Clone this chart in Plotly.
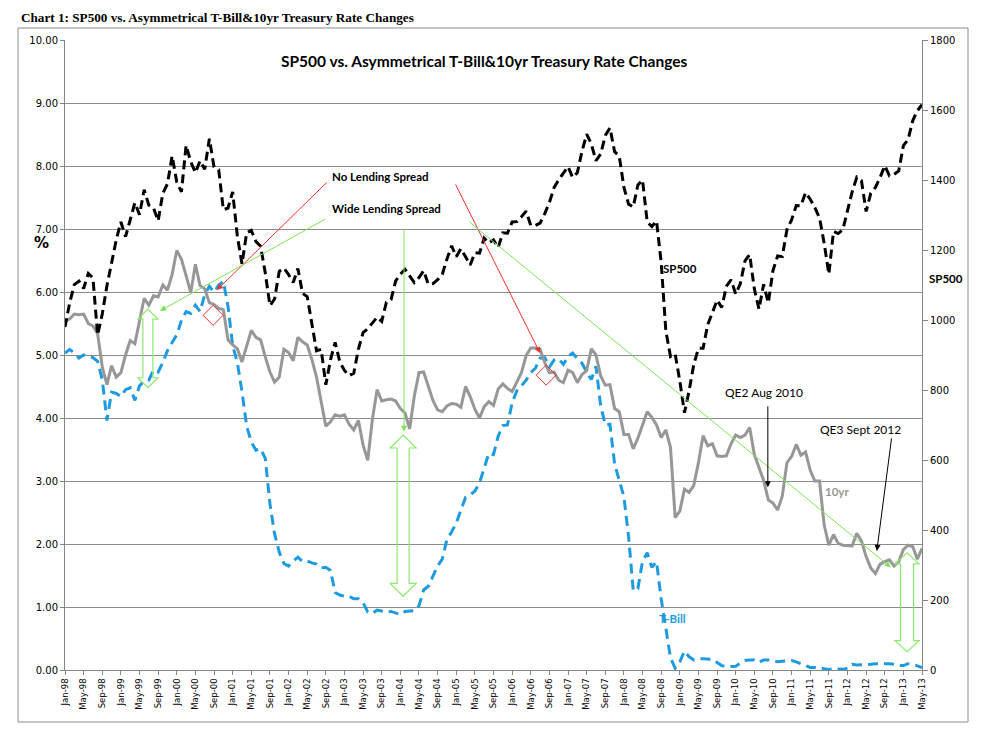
import plotly.graph_objects as go

# Monthly data Jan-98 .. May-13
sp500 = [
    980, 1049, 1101, 1111, 1090, 1133, 1120, 957, 1017, 1098, 1163, 1229,
    1280, 1238, 1286, 1335, 1301, 1372, 1328, 1320, 1283, 1362, 1389, 1469,
    1394, 1366, 1499, 1452, 1421, 1455, 1431, 1518, 1437, 1429, 1315, 1320,
    1366, 1240, 1160, 1249, 1256, 1224, 1211, 1134, 1041, 1060, 1139, 1148,
    1130, 1107, 1147, 1076, 1067, 990, 912, 916, 815, 886, 936, 880,
    856, 841, 848, 917, 964, 975, 990, 1008, 996, 1051, 1058, 1112,
    1131, 1145, 1126, 1107, 1121, 1141, 1102, 1104, 1115, 1130, 1174, 1212,
    1181, 1204, 1181, 1157, 1192, 1191, 1234, 1220, 1229, 1207, 1249, 1248,
    1280, 1281, 1295, 1311, 1270, 1270, 1277, 1304, 1336, 1378, 1401, 1418,
    1438, 1407, 1421, 1482, 1531, 1503, 1455, 1474, 1527, 1549, 1481, 1468,
    1379, 1331, 1323, 1386, 1400, 1280, 1267, 1283, 1165, 969, 896, 903,
    826, 735, 798, 873, 919, 919, 987, 1021, 1057, 1036, 1096, 1115,
    1074, 1104, 1169, 1187, 1089, 1031, 1102, 1049, 1141, 1183, 1181, 1258,
    1286, 1327, 1326, 1364, 1345, 1321, 1292, 1219, 1131, 1253, 1247, 1258,
    1312, 1366, 1408, 1398, 1310, 1362, 1379, 1407, 1441, 1412, 1416, 1426,
    1498, 1515, 1569, 1598, 1615,
]

ten_yr = [
    5.54, 5.57, 5.65, 5.64, 5.65, 5.50, 5.46, 5.34, 4.81, 4.53, 4.83, 4.65,
    4.72, 5.00, 5.23, 5.18, 5.54, 5.90, 5.79, 5.94, 5.92, 6.11, 6.03, 6.28,
    6.66, 6.52, 6.26, 5.99, 6.44, 6.10, 6.05, 5.83, 5.80, 5.74, 5.72, 5.24,
    5.16, 5.10, 4.89, 5.14, 5.39, 5.28, 5.24, 4.97, 4.73, 4.57, 4.65, 5.09,
    5.04, 4.91, 5.28, 5.21, 5.16, 4.93, 4.65, 4.26, 3.87, 3.94, 4.05, 4.03,
    4.05, 3.90, 3.81, 3.96, 3.57, 3.33, 3.98, 4.45, 4.27, 4.29, 4.30, 4.27,
    4.15, 4.08, 3.83, 4.35, 4.72, 4.73, 4.50, 4.28, 4.13, 4.10, 4.19, 4.23,
    4.22, 4.17, 4.50, 4.34, 4.14, 4.00, 4.18, 4.26, 4.20, 4.46, 4.54, 4.47,
    4.42, 4.57, 4.72, 4.99, 5.11, 5.11, 5.09, 4.88, 4.72, 4.73, 4.60, 4.56,
    4.76, 4.72, 4.56, 4.69, 4.75, 5.10, 5.00, 4.67, 4.52, 4.53, 4.15, 4.10,
    3.74, 3.74, 3.51, 3.68, 3.88, 4.10, 4.01, 3.89, 3.69, 3.81, 3.53, 2.42,
    2.52, 2.87, 2.82, 2.93, 3.29, 3.72, 3.56, 3.59, 3.40, 3.39, 3.40, 3.59,
    3.73, 3.69, 3.73, 3.85, 3.42, 3.20, 3.01, 2.70, 2.65, 2.54, 2.76, 3.29,
    3.39, 3.58, 3.41, 3.46, 3.17, 3.00, 3.00, 2.30, 1.98, 2.15, 2.01, 1.98,
    1.97, 1.97, 2.17, 2.05, 1.80, 1.62, 1.53, 1.68, 1.72, 1.75, 1.65, 1.72,
    1.91, 1.98, 1.96, 1.76, 1.93,
]

t_bill = [
    5.03, 5.09, 5.03, 4.95, 5.00, 4.98, 4.96, 4.90, 4.61, 3.96, 4.41, 4.39,
    4.34, 4.45, 4.48, 4.28, 4.51, 4.59, 4.60, 4.76, 4.73, 4.88, 5.07, 5.20,
    5.32, 5.55, 5.69, 5.66, 5.79, 5.69, 5.96, 6.09, 6.00, 6.11, 6.17, 5.77,
    5.15, 4.88, 4.42, 3.87, 3.62, 3.49, 3.51, 3.36, 2.64, 2.16, 1.87, 1.69,
    1.65, 1.73, 1.79, 1.72, 1.73, 1.70, 1.68, 1.62, 1.63, 1.58, 1.23, 1.19,
    1.17, 1.17, 1.13, 1.13, 1.07, 0.92, 0.90, 0.95, 0.94, 0.92, 0.93, 0.90,
    0.88, 0.93, 0.94, 0.94, 1.02, 1.27, 1.33, 1.48, 1.65, 1.76, 2.07, 2.19,
    2.33, 2.54, 2.74, 2.78, 2.84, 2.97, 3.22, 3.44, 3.42, 3.71, 3.88, 3.89,
    4.24, 4.43, 4.51, 4.60, 4.72, 4.79, 4.95, 4.96, 4.81, 4.92, 4.94, 4.85,
    4.98, 5.03, 4.94, 4.87, 4.73, 4.61, 4.82, 4.20, 3.89, 3.90, 3.27, 3.00,
    2.75, 2.12, 1.26, 1.29, 1.73, 1.86, 1.63, 1.72, 1.13, 0.67, 0.19, 0.03,
    0.13, 0.30, 0.21, 0.16, 0.18, 0.18, 0.18, 0.17, 0.12, 0.07, 0.05, 0.05,
    0.06, 0.11, 0.15, 0.16, 0.16, 0.12, 0.16, 0.16, 0.15, 0.13, 0.14, 0.14,
    0.15, 0.13, 0.10, 0.06, 0.04, 0.04, 0.04, 0.02, 0.01, 0.02, 0.01, 0.01,
    0.03, 0.09, 0.08, 0.08, 0.09, 0.09, 0.10, 0.10, 0.11, 0.10, 0.09, 0.07,
    0.07, 0.10, 0.09, 0.06, 0.04,
]

month_names = ["Jan", "Feb", "Mar", "Apr", "May", "Jun",
               "Jul", "Aug", "Sep", "Oct", "Nov", "Dec"]
categories = [f"{m}-{y % 100:02d}" for y in range(1998, 2014) for m in month_names][:len(sp500)]
x = list(range(len(sp500)))
tick_idx = list(range(0, len(sp500), 4))
tick_text = [categories[i] for i in tick_idx]

# pixel -> data helpers for annotation geometry (plot area 857 x 630 px)
PW, PH = 857.0, 630.0
PX_X = (len(sp500) - 1) / PW
PX_Y = 10.0 / PH
# screen position of plot area (page has an 8px body margin)
SX0, SY1 = 65, 670


def px(sx):
    return (sx - SX0) / PW


def py(sy):
    return (SY1 - sy) / PH


fig = go.Figure()
fig.add_trace(go.Scatter(x=x, y=t_bill, mode="lines", name="T-Bill",
                         line=dict(color="#1E9BE0", width=3, dash="10px,6px")))
fig.add_trace(go.Scatter(x=x, y=ten_yr, mode="lines", name="10yr",
                         line=dict(color="#979797", width=3)))
fig.add_trace(go.Scatter(x=x, y=sp500, mode="lines", name="SP500", yaxis="y2",
                         line=dict(color="#000000", width=3, dash="9px,5px")))

shapes = []
# outer chart border
shapes.append(dict(type="rect", xref="paper", yref="paper",
                   x0=px(18), x1=px(968), y0=py(722), y1=py(28),
                   line=dict(color="#8a8a8a", width=1), fillcolor="rgba(0,0,0,0)", layer="below"))


def dbl_arrow(cx, ytop, ybot, sw, hw, hl):
    sw *= PX_X; hw *= PX_X; hl *= PX_Y
    pts = [(cx, ytop), (cx + hw, ytop - hl), (cx + sw, ytop - hl), (cx + sw, ybot + hl),
           (cx + hw, ybot + hl), (cx, ybot), (cx - hw, ybot + hl), (cx - sw, ybot + hl),
           (cx - sw, ytop - hl), (cx - hw, ytop - hl)]
    return "M " + " L ".join(f"{a:.3f},{b:.3f}" for a, b in pts) + " Z"


for cx, yt, yb, sw, hw, hl in [(17.8, 5.73, 4.48, 5, 10, 10),
                               (72.6, 3.73, 1.17, 6, 13, 13),
                               (180.8, 1.86, 0.29, 6.5, 12, 11)]:
    shapes.append(dict(type="path", xref="x", yref="y", path=dbl_arrow(cx, yt, yb, sw, hw, hl),
                       line=dict(color="#8EE870", width=1.2), fillcolor="rgba(255,255,255,0)"))


def diamond(cx, cy, r):
    rx = r * PX_X; ry = r * PX_Y
    return f"M {cx-rx},{cy} L {cx},{cy+ry} L {cx+rx},{cy} L {cx},{cy-ry} Z"


for cx, cy in [(31.8, 5.63), (103.3, 4.68)]:
    shapes.append(dict(type="path", xref="x", yref="y", path=diamond(cx, cy, 10),
                       line=dict(color="#E8302A", width=1), fillcolor="rgba(255,255,255,0)"))

annotations = []


def arrow(tail, head, color, width=1):
    annotations.append(dict(x=head[0], y=head[1], ax=tail[0], ay=tail[1], xref="x", yref="y",
                            axref="x", ayref="y", text="", showarrow=True, arrowhead=2,
                            arrowsize=1.2, arrowwidth=width, arrowcolor=color))


arrow((56.5, 7.76), (32.6, 6.03), "#E8302A")
arrow((83.7, 7.73), (102.0, 5.03), "#E8302A")
arrow((56.2, 7.17), (20.4, 5.70), "#7CE35A")
arrow((72.8, 7.02), (72.8, 3.78), "#7CE35A")
arrow((86.5, 7.13), (177.3, 1.63), "#7CE35A")
arrow((150.9, 4.21), (150.9, 2.90), "#000000")
arrow((177.5, 3.70), (174.3, 1.89), "#000000")


def label(text, xx, yy, color="#000000", size=12, xanchor="center", bold=True):
    t = f"<b>{text}</b>" if bold else text
    annotations.append(dict(x=xx, y=yy, xref="x", yref="y", text=t, showarrow=False,
                            xanchor=xanchor, yanchor="middle",
                            font=dict(family="Lato", size=size, color=color)))


label("No Lending Spread", 56.9, 7.84, size=11.5, xanchor="left")
label("Wide Lending Spread", 56.9, 7.33, size=11.5, xanchor="left")
label("SP500", 132.0, 6.38, size=11.5)
label("10yr", 165.7, 2.83, color="#979797", size=11.5)
label("T-Bill", 130.5, 0.81, color="#1E9BE0", size=11.5)
label("QE2 Aug 2010", 150.1, 4.40, size=12, bold=False)
label("QE3 Sept 2012", 170.9, 3.81, size=12, bold=False)

# titles and axis labels
annotations.append(dict(x=px(19), y=py(18), xref="paper", yref="paper",
                        text="<b>Chart 1: SP500 vs. Asymmetrical T-Bill&10yr Treasury Rate Changes</b>",
                        showarrow=False, xanchor="left", yanchor="middle",
                        font=dict(family="Liberation Serif", size=13.2, color="#000000")))
annotations.append(dict(x=px(484), y=py(61), xref="paper", yref="paper",
                        text="<b>SP500 vs. Asymmetrical T-Bill&10yr Treasury Rate Changes</b>",
                        showarrow=False, xanchor="center", yanchor="middle",
                        font=dict(family="Lato", size=15.5, color="#000000")))
annotations.append(dict(x=px(41), y=py(243), xref="paper", yref="paper",
                        text="<b>%</b>", showarrow=False, xanchor="center", yanchor="middle",
                        font=dict(family="DejaVu Sans", size=15, color="#000000")))
annotations.append(dict(x=px(946), y=py(278), xref="paper", yref="paper",
                        text="<b>SP500</b>", showarrow=False, xanchor="center", yanchor="middle",
                        font=dict(family="Lato", size=11.5, color="#000000")))

# page body has an 8px margin, so offset the plot area accordingly
L, T = SX0 - 8, (SY1 - 630) - 8
fig.update_layout(
    width=990, height=729,
    margin=dict(l=L, r=990 - L - 857, t=T, b=729 - T - 630, autoexpand=False),
    paper_bgcolor="white", plot_bgcolor="white",
    showlegend=False,
    shapes=shapes, annotations=annotations,
    xaxis=dict(range=[0, len(sp500) - 1], tickvals=tick_idx, ticktext=tick_text,
               tickangle=-90, tickfont=dict(family="DejaVu Sans", size=8.5, color="#000000"),
               showgrid=False, zeroline=False, showline=True, linecolor="#868686", linewidth=1,
               ticks="outside", ticklen=4, tickcolor="#868686"),
    yaxis=dict(range=[0, 10], dtick=1, tickformat=".2f",
               tickfont=dict(family="DejaVu Sans", size=10, color="#000000"),
               showgrid=True, gridcolor="#8c8c8c", gridwidth=1, zeroline=False,
               showline=True, linecolor="#868686", linewidth=1, ticks="outside", ticklen=4,
               tickcolor="#868686"),
    yaxis2=dict(range=[0, 1800], dtick=200, overlaying="y", side="right",
                tickfont=dict(family="DejaVu Sans", size=10, color="#000000"),
                showgrid=False, zeroline=False, showline=True, linecolor="#868686", linewidth=1,
                ticks="outside", ticklen=5, tickcolor="#868686"),
)

fig.write_html("out.html")
